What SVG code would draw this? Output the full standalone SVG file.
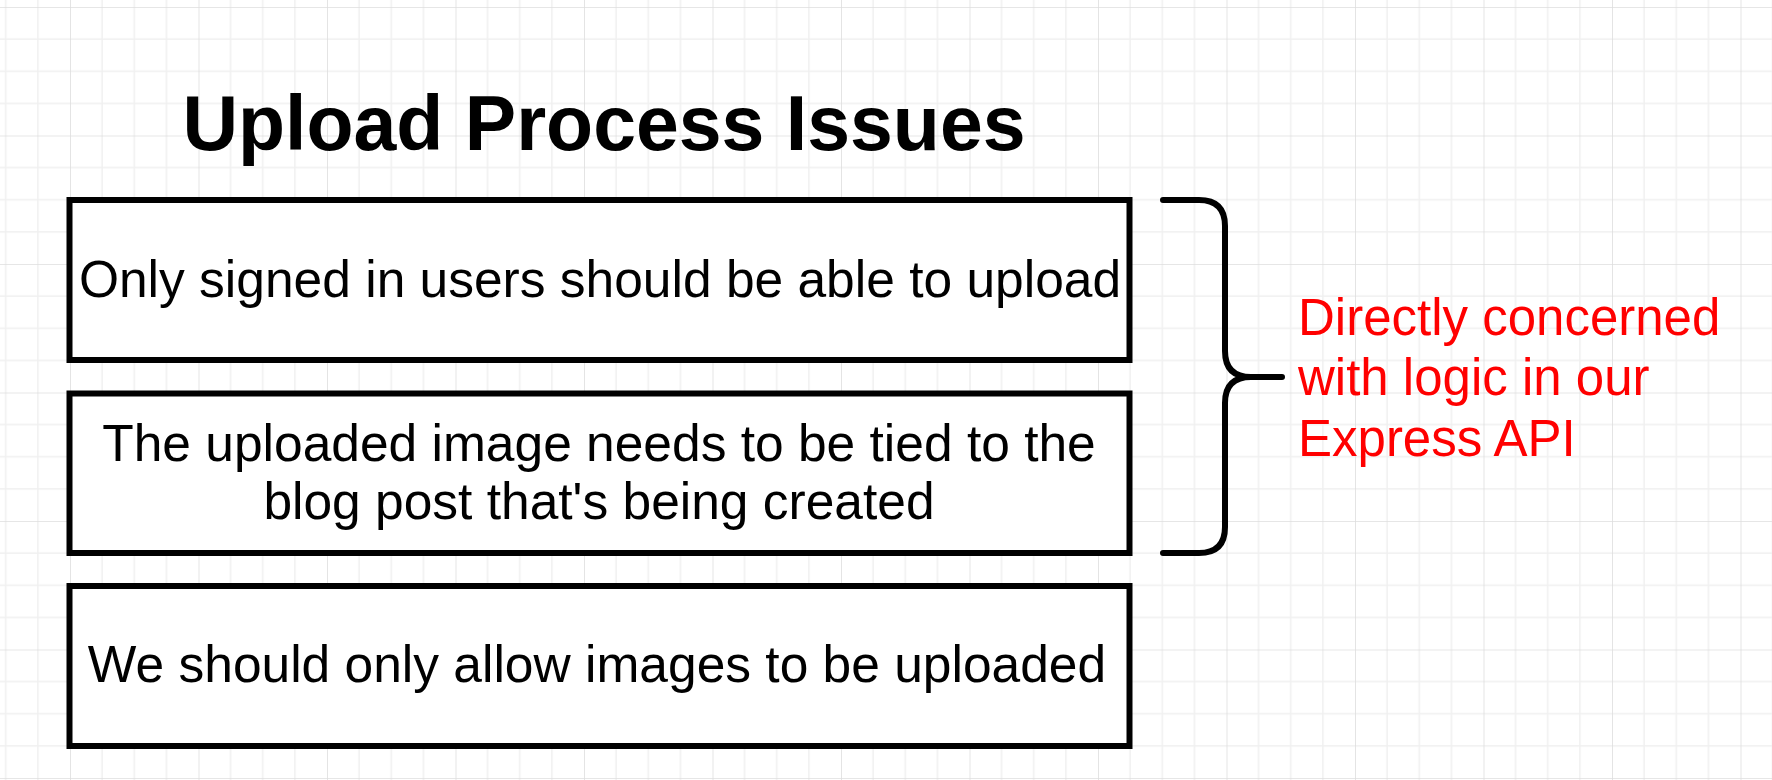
<svg xmlns="http://www.w3.org/2000/svg" width="1772" height="780" viewBox="0 0 1772 780">
  <defs>
    <!-- drawing-paper grid: 4 minor cells per major cell -->
    <pattern id="grid" x="70" y="7" width="128.5" height="128.5" patternUnits="userSpaceOnUse">
      <g stroke="#f0f0f0" stroke-width="1.6">
        <line x1="32.125" y1="0" x2="32.125" y2="128.5"/>
        <line x1="64.25" y1="0" x2="64.25" y2="128.5"/>
        <line x1="96.375" y1="0" x2="96.375" y2="128.5"/>
        <line x1="0" y1="32.125" x2="128.5" y2="32.125"/>
        <line x1="0" y1="64.25" x2="128.5" y2="64.25"/>
        <line x1="0" y1="96.375" x2="128.5" y2="96.375"/>
      </g>
      <g stroke="#dedede" stroke-width="1.6">
        <line x1="0" y1="0" x2="0" y2="128.5"/>
        <line x1="0" y1="0" x2="128.5" y2="0"/>
      </g>
    </pattern>
    <style>
      .box { fill: #ffffff; stroke: #000000; stroke-width: 6; }
      .label { font-family: "Liberation Sans", Arial, Helvetica, sans-serif; font-size: 51.5px; fill: #000000; text-anchor: middle; }
      .title { font-family: "Liberation Sans", Arial, Helvetica, sans-serif; font-size: 77px; font-weight: bold; fill: #000000; text-anchor: middle; }
      .note { font-family: "Liberation Sans", Arial, Helvetica, sans-serif; font-size: 51px; fill: #ff0000; }
      .brace { fill: none; stroke: #000000; stroke-width: 6; stroke-linecap: round; stroke-linejoin: round; }
    </style>
  </defs>

  <rect x="0" y="0" width="1772" height="780" fill="#ffffff"/>
  <rect x="0" y="0" width="1772" height="780" fill="url(#grid)"/>

  <g id="title">
    <text class="title" x="604" y="150">Upload Process Issues</text>
  </g>

  <g id="issue-signed-in">
    <rect class="box" x="69.5" y="200" width="1060" height="160"/>
    <text class="label" x="600" y="297">Only signed in users should be able to upload</text>
  </g>

  <g id="issue-tied-to-post">
    <rect class="box" x="69.5" y="393.5" width="1060" height="159.5"/>
    <text class="label" x="599" y="461">The uploaded image needs to be tied to the</text>
    <text class="label" x="599" y="519">blog post that's being created</text>
  </g>

  <g id="issue-images-only">
    <rect class="box" x="69.5" y="586" width="1060" height="160"/>
    <text class="label" x="597" y="682">We should only allow images to be uploaded</text>
  </g>

  <g id="connectors">
    <path class="brace" d="M1163,200 H1199 Q1225,200 1225,226 V351 Q1225,377 1251,377 H1282 M1251,377 Q1225,377 1225,403 V527 Q1225,553 1199,553 H1163"/>
  </g>

  <g id="note-express-api">
    <text class="note" x="1298" y="335">Directly concerned</text>
    <text class="note" x="1298" y="395">with logic in our</text>
    <text class="note" x="1298" y="456">Express API</text>
  </g>
</svg>
